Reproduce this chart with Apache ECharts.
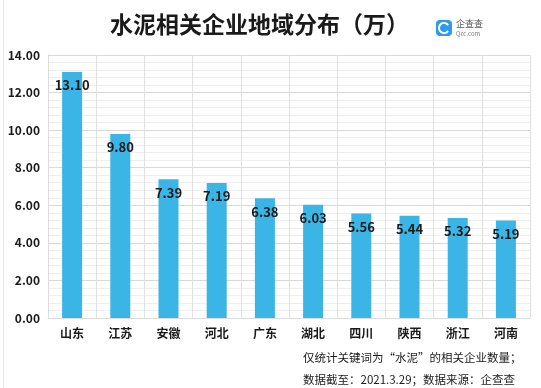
<!DOCTYPE html>
<html><head><meta charset="utf-8">
<script src="https://cdn.jsdelivr.net/npm/echarts@6/dist/echarts.min.js"></script>
<style>html,body{margin:0;padding:0;background:#fff}#c{width:541px;height:388px}</style>
</head><body><div id="c"></div>
<script>
var categories = ['山东','江苏','安徽','河北','广东','湖北','四川','陕西','浙江','河南'];
var values = [13.10, 9.80, 7.39, 7.19, 6.38, 6.03, 5.56, 5.44, 5.32, 5.19];
var titleText = '水泥相关企业地域分布（万）';
var note1 = '仅统计关键词为“水泥”的相关企业数量；';
var note2 = '数据截至：2021.3.29；数据来源：企查查';
var FONT = '"Noto Sans CJK SC", "Noto Sans", sans-serif';
var chart = echarts.init(document.getElementById('c'));
chart.setOption({
  animation: false,
  backgroundColor: '#fff',
  textStyle: {fontFamily: FONT},
  grid: {left: 48, right: 11, top: 55, bottom: 70},
  xAxis: {
    type: 'category', data: categories,
    axisLine: {show: true, lineStyle: {color: '#dcdcdc'}},
    axisTick: {show: false},
    axisLabel: {color: '#1a1a1a', fontSize: 12, fontWeight: 'bold', margin: 9, fontFamily: FONT},
    splitLine: {show: true, lineStyle: {color: '#e0e0e0', width: 1}}
  },
  yAxis: {
    type: 'value', min: 0, max: 14, interval: 2,
    axisLine: {show: true, lineStyle: {color: '#dcdcdc'}},
    axisTick: {show: false},
    axisLabel: {color: '#1a1a1a', fontSize: 12, fontWeight: 'bold', margin: 8, fontFamily: FONT,
      formatter: function(v){return v.toFixed(2);}},
    splitLine: {show: true, lineStyle: {color: '#d9d9d9'}},
    minorTick: {show: false, splitNumber: 5},
    minorSplitLine: {show: true, lineStyle: {color: '#efefef'}}
  },
  series: [{
    type: 'bar', data: values, barWidth: 20,
    itemStyle: {color: '#3bb5e5'},
    label: {show: true, position: 'insideTop', distance: 7, color: '#1a1a1a', fontSize: 13, fontWeight: 'bold',
      fontFamily: FONT, formatter: function(p){return p.value.toFixed(2);}}
  }],
  graphic: [
    {type: 'text', left: 110, top: 13, style: {text: titleText, font: 'bold 23px ' + FONT, fill: '#1a1a1a'}},
    {type: 'rect', shape: {x: 436, y: 20, width: 16, height: 16, r: 4}, style: {fill: '#2f9ae8'}},
    {type: 'arc', shape: {cx: 444, cy: 28, r: 5, startAngle: 0.6, endAngle: 5.7}, style: {stroke: '#fff', lineWidth: 2, fill: null}},
    {type: 'text', left: 456, top: 19, style: {text: '企查查', font: '9px ' + FONT, fill: '#555'}},
    {type: 'text', left: 456, top: 31, style: {text: 'Qcc.com', font: '6px ' + FONT, fill: '#777'}},
    {type: 'line', shape: {x1: 3.5, y1: 0, x2: 3.5, y2: 388}, style: {stroke: '#e6e6e6', lineWidth: 1}},
    {type: 'text', left: 303, top: 352, style: {text: note1, font: '11.5px ' + FONT, fill: '#1a1a1a'}},
    {type: 'text', left: 303, top: 374, style: {text: note2, font: '11.5px ' + FONT, fill: '#1a1a1a'}}
  ]
});
</script></body></html>
